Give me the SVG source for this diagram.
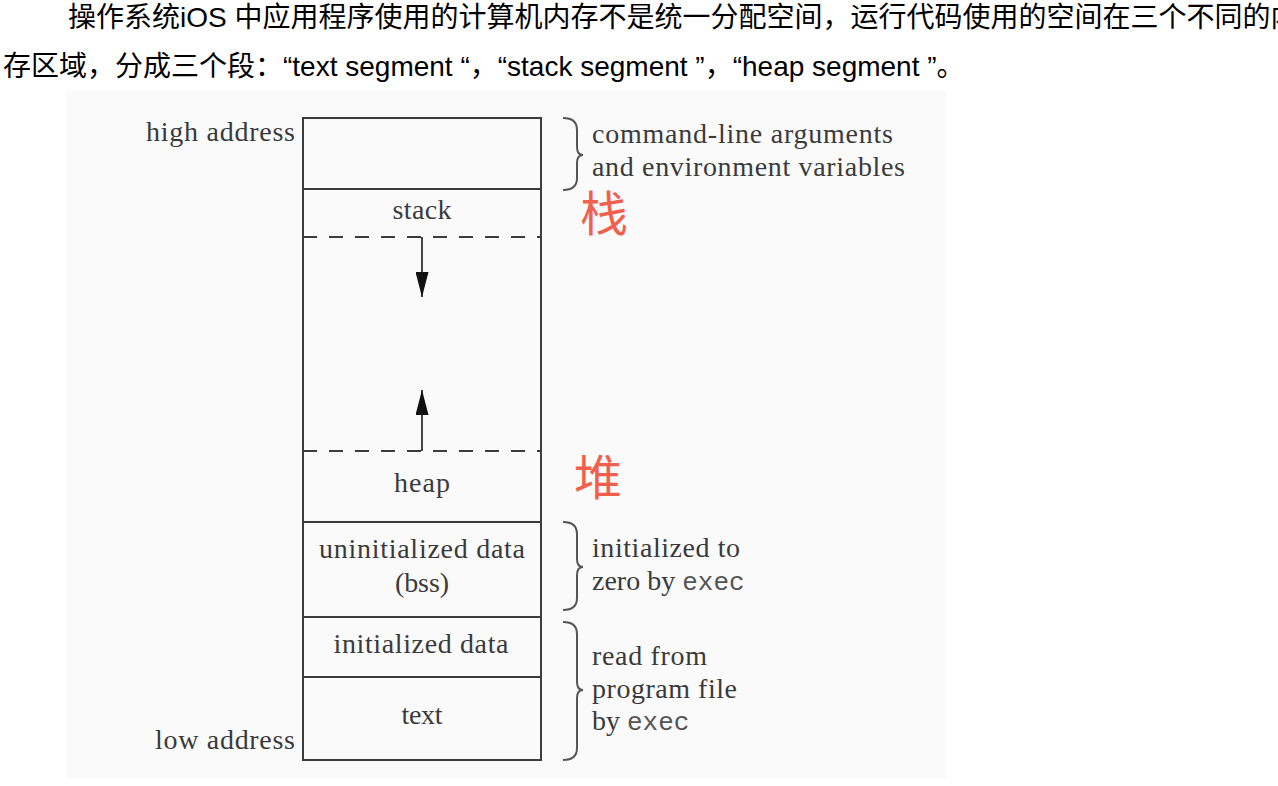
<svg xmlns="http://www.w3.org/2000/svg" width="1278" height="786" viewBox="0 0 1278 786">
<style>
.hdr{font-family:"Liberation Sans","Noto Sans CJK SC",sans-serif;font-size:28px;fill:#000}
.lbl{font-family:"Liberation Serif","DejaVu Serif",serif;font-size:28px;fill:#3a3a3a}
.mono{font-family:"Liberation Mono",monospace;fill:#555}
.box{fill:none;stroke:#3c3c3c;stroke-width:2}
.dash{stroke:#3c3c3c;stroke-width:2;stroke-dasharray:14 12}
.brace{fill:none;stroke:#555;stroke-width:2}
.red{font-family:"Noto Sans CJK SC",sans-serif;font-size:48px;fill:#f0604d}
</style>
<defs>
<marker id="ah" viewBox="0 0 25 13" refX="25" refY="6.5" markerWidth="25" markerHeight="13" markerUnits="userSpaceOnUse" orient="auto">
<path d="M0,0 L25,6.5 L0,13 Z" fill="#111"/>
</marker>
</defs>
<rect width="1278" height="786" fill="#fff"/>
<g id="header">
<text class="hdr" x="68" y="27">操作系统iOS 中应用程序使用的计算机内存不是统一分配空间，运行代码使用的空间在三个不同的内</text>
<text class="hdr" x="3" y="76">存区域，分成三个段：“text segment “，“stack segment ”，“heap segment ”。</text>
</g>
<rect x="66" y="90" width="880" height="688" fill="#fafafa"/>
<g id="memory-column">
<rect class="box" x="303" y="118" width="238" height="642"/>
<line class="box" x1="303" y1="189" x2="541" y2="189"/>
<line class="box" x1="303" y1="522" x2="541" y2="522"/>
<line class="box" x1="303" y1="617" x2="541" y2="617"/>
<line class="box" x1="303" y1="677" x2="541" y2="677"/>
<line class="dash" x1="303" y1="237" x2="541" y2="237"/>
<line class="dash" x1="303" y1="451" x2="541" y2="451"/>
</g>
<g id="seg-args"><text class="lbl" x="295" y="141" text-anchor="end" textLength="149" lengthAdjust="spacing">high address</text></g>
<g id="seg-stack"><text class="lbl" x="422" y="219" text-anchor="middle" textLength="59" lengthAdjust="spacing">stack</text></g>
<g id="seg-heap"><text class="lbl" x="422" y="492" text-anchor="middle" textLength="56" lengthAdjust="spacing">heap</text></g>
<g id="seg-bss">
<text class="lbl" x="422" y="558" text-anchor="middle" textLength="206" lengthAdjust="spacing">uninitialized data</text>
<text class="lbl" x="422" y="592" text-anchor="middle" textLength="54" lengthAdjust="spacing">(bss)</text>
</g>
<g id="seg-data"><text class="lbl" x="421" y="653" text-anchor="middle" textLength="175" lengthAdjust="spacing">initialized data</text></g>
<g id="seg-text">
<text class="lbl" x="422" y="724" text-anchor="middle" textLength="41" lengthAdjust="spacing">text</text>
<text class="lbl" x="295" y="749" text-anchor="end" textLength="140" lengthAdjust="spacing">low address</text>
</g>
<g id="connectors">
<line x1="422" y1="237" x2="422" y2="297" stroke="#444" stroke-width="2" marker-end="url(#ah)"/>
<line x1="422" y1="451" x2="422" y2="390" stroke="#444" stroke-width="2" marker-end="url(#ah)"/>
<path class="brace" d="M563,118 Q577,118 577,130 L577,147 Q577,155 583,155 Q577,155 577,163 L577,178 Q577,190 563,190"/>
<path class="brace" d="M563,522 Q577,522 577,534 L577,559 Q577,567 583,567 Q577,567 577,575 L577,598 Q577,610 563,610"/>
<path class="brace" d="M563,622 Q577,622 577,634 L577,682 Q577,690 583,690 Q577,690 577,698 L577,748 Q577,760 563,760"/>
</g>
<g id="notes">
<text class="lbl" x="592" y="143" textLength="301" lengthAdjust="spacing">command-line arguments</text>
<text class="lbl" x="592" y="176" textLength="313" lengthAdjust="spacing">and environment variables</text>
<text class="lbl" x="592" y="557" textLength="148" lengthAdjust="spacing">initialized to</text>
<text class="lbl" x="592" y="590">zero by <tspan class="mono" font-size="26">exec</tspan></text>
<text class="lbl" x="592" y="665" textLength="115" lengthAdjust="spacing">read from</text>
<text class="lbl" x="592" y="698" textLength="145" lengthAdjust="spacing">program file</text>
<text class="lbl" x="592" y="730">by <tspan class="mono" font-size="26">exec</tspan></text>
</g>
<g id="annotations">
<text class="red" x="580" y="231">栈</text>
<text class="red" x="574" y="495">堆</text>
</g>
</svg>
